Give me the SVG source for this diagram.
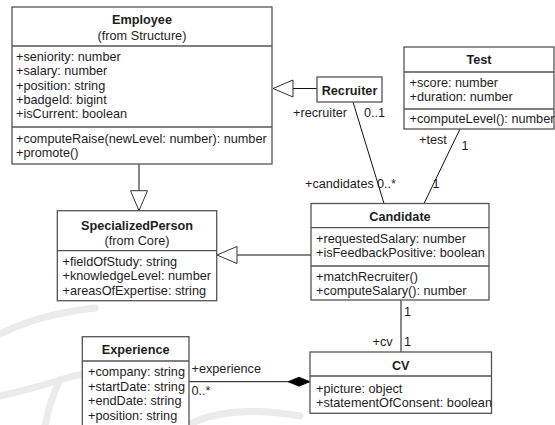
<svg xmlns="http://www.w3.org/2000/svg" width="555" height="425" viewBox="0 0 555 425">
<style>
text{font-family:"Liberation Sans",Arial,sans-serif;font-size:12.7px;fill:#1e1e1e}
.t{font-weight:bold;text-anchor:middle}
.s{text-anchor:middle}
.box{fill:#fff;stroke:#555;stroke-width:1.3}
.div{stroke:#555;stroke-width:1.3;fill:none}
.ln{stroke:#111;stroke-width:1;fill:none}
.wm{fill:none;stroke:#ebebeb;stroke-width:7;stroke-linecap:round}
</style>
<defs>
<marker id="gen" markerUnits="userSpaceOnUse" markerWidth="22" markerHeight="19" refX="20" refY="8.5" orient="auto" viewBox="-1 -1 22 19">
<path d="M0,0 L20,8.5 L0,17 Z" fill="#fff" stroke="#333" stroke-width="1"/>
</marker>
<marker id="comp" markerUnits="userSpaceOnUse" markerWidth="24" markerHeight="11" refX="22" refY="4.5" orient="auto" viewBox="-1 -1 24 11">
<path d="M0,4.5 L11,0 L22,4.5 L11,9 Z" fill="#000" stroke="#000" stroke-width="0.8"/>
</marker>
</defs>
<rect width="555" height="425" fill="#fff"/>
<g id="watermark">
<path class="wm" d="M0,334 Q40,314 95,308"/>
<path class="wm" d="M0,396 Q35,388 60,380 Q72,376 84,374"/>
<path class="wm" d="M60,380 Q50,400 45,425"/>
<path class="wm" d="M190,424 Q230,404 300,416"/>
</g>
<g id="connectors">
<path class="ln" d="M317,88.5 L273,88.5" marker-end="url(#gen)"/>
<path class="ln" d="M139,164 L139,210.7" marker-end="url(#gen)"/>
<path class="ln" d="M311,255 L217,255" marker-end="url(#gen)"/>
<path class="ln" d="M353,102 L384,203.5"/>
<path class="ln" d="M460,129 L424,203.5"/>
<path class="ln" d="M401,300 L401,352"/>
<path class="ln" d="M189,381.7 L310,381.7" marker-end="url(#comp)"/>
<text x="293" y="117">+recruiter</text>
<text x="364" y="117">0..1</text>
<text x="419" y="144">+test</text>
<text x="461.5" y="150">1</text>
<text x="305" y="188">+candidates</text>
<text x="377" y="188">0..*</text>
<text x="432.5" y="188">1</text>
<text x="404" y="316">1</text>
<text x="372.5" y="346">+cv</text>
<text x="404" y="346">1</text>
<text x="191.5" y="372.5">+experience</text>
<text x="191.5" y="395">0..*</text>
</g>
<g id="Employee">
<rect class="box" x="12" y="7" width="260" height="157"/>
<text class="t" x="142" y="24">Employee</text>
<text class="s" x="142" y="39.5">(from Structure)</text>
<path class="div" d="M12,46 H272 M12,127 H272"/>
<text x="16" y="61">+seniority: number</text>
<text x="16" y="75.3">+salary: number</text>
<text x="16" y="89.6">+position: string</text>
<text x="16" y="104">+badgeId: bigint</text>
<text x="16" y="118.3">+isCurrent: boolean</text>
<text x="16" y="142.5">+computeRaise(newLevel: number): number</text>
<text x="16" y="157">+promote()</text>
</g>
<g id="Recruiter">
<rect class="box" x="317" y="77" width="65" height="25"/>
<text class="t" x="349.5" y="94.5">Recruiter</text>
</g>
<g id="Test">
<rect class="box" x="404" y="47" width="150" height="82"/>
<text class="t" x="479" y="64">Test</text>
<path class="div" d="M404,72 H554 M404,109 H554"/>
<text x="409.5" y="86.5">+score: number</text>
<text x="409.5" y="100.5">+duration: number</text>
<text x="409.5" y="123">+computeLevel(): number</text>
</g>
<g id="SpecializedPerson">
<rect class="box" x="57.3" y="210.7" width="159.4" height="90"/>
<text class="t" x="137" y="229.5">SpecializedPerson</text>
<text class="s" x="137" y="244.5">(from Core)</text>
<path class="div" d="M57.3,250.7 H216.7"/>
<text x="62.5" y="266">+fieldOfStudy: string</text>
<text x="62.5" y="280.3">+knowledgeLevel: number</text>
<text x="62.5" y="294.6">+areasOfExpertise: string</text>
</g>
<g id="Candidate">
<rect class="box" x="311" y="203.5" width="178" height="96.5"/>
<text class="t" x="400" y="220.5">Candidate</text>
<path class="div" d="M311,227.7 H489 M311,266 H489"/>
<text x="316" y="242.5">+requestedSalary: number</text>
<text x="316" y="256.5">+isFeedbackPositive: boolean</text>
<text x="316" y="281">+matchRecruiter()</text>
<text x="316" y="295">+computeSalary(): number</text>
</g>
<g id="CV">
<rect class="box" x="310" y="352" width="181.5" height="61.3"/>
<text class="t" x="400.7" y="369.5">CV</text>
<path class="div" d="M310,376 H491.5"/>
<text x="316" y="393">+picture: object</text>
<text x="316" y="407">+statementOfConsent: boolean</text>
</g>
<g id="Experience">
<rect class="box" x="82.3" y="336.7" width="106.7" height="100"/>
<text class="t" x="135.7" y="354">Experience</text>
<path class="div" d="M82.3,361 H189"/>
<text x="88" y="376">+company: string</text>
<text x="88" y="390.5">+startDate: string</text>
<text x="88" y="405">+endDate: string</text>
<text x="88" y="419.5">+position: string</text>
</g>
</svg>
